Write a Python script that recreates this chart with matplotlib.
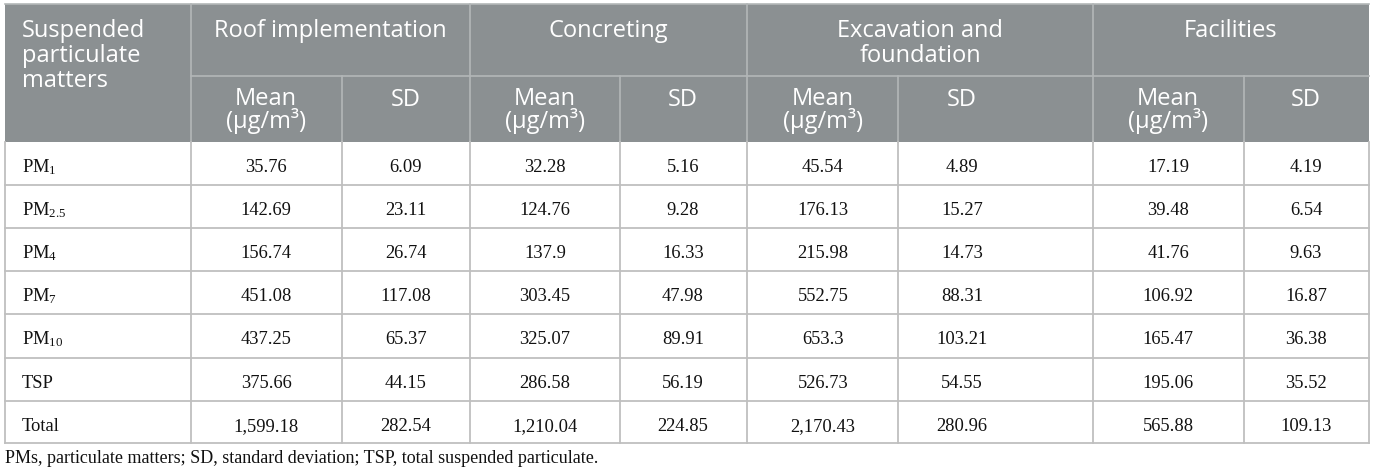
import matplotlib.pyplot as plt
from matplotlib.patches import Rectangle

plt.rcParams['mathtext.fontset'] = 'custom'
plt.rcParams['mathtext.rm'] = 'Liberation Serif'
plt.rcParams['mathtext.it'] = 'Liberation Serif:italic'

# dados da tabela
stages = ["Roof implementation", "Concreting", "Excavation and\nfoundation", "Facilities"]
particles = [r"PM$_{\mathrm{1}}$", r"PM$_{\mathrm{2.5}}$", r"PM$_{\mathrm{4}}$", r"PM$_{\mathrm{7}}$",
             r"PM$_{\mathrm{10}}$", "TSP", "Total"]
roof_mean = [35.76, 142.69, 156.74, 451.08, 437.25, 375.66, 1599.18]
roof_sd = [6.09, 23.11, 26.74, 117.08, 65.37, 44.15, 282.54]
conc_mean = [32.28, 124.76, 137.9, 303.45, 325.07, 286.58, 1210.04]
conc_sd = [5.16, 9.28, 16.33, 47.98, 89.91, 56.19, 224.85]
exc_mean = [45.54, 176.13, 215.98, 552.75, 653.3, 526.73, 2170.43]
exc_sd = [4.89, 15.27, 14.73, 88.31, 103.21, 54.55, 280.96]
fac_mean = [17.19, 39.48, 41.76, 106.92, 165.47, 195.06, 565.88]
fac_sd = [4.19, 6.54, 9.63, 16.87, 36.38, 35.52, 109.13]
footnote = "PMs, particulate matters; SD, standard deviation; TSP, total suspended particulate."

columns = [roof_mean, roof_sd, conc_mean, conc_sd, exc_mean, exc_sd, fac_mean, fac_sd]

# layout (pixels)
W, H = 1376, 477
left, right = 5, 1369
top, mid, head_bot = 5, 77, 143
group_edges = [191, 470, 747, 1093, right]
sub_edges = [342, 620, 898, 1244]
text_x = [266, 406, 545, 683, 823, 962, 1168, 1306]
row_edges = [143, 186, 229, 272, 315, 359, 402, 444]

head_bg = "#8b9092"
head_line = "#b3b7b8"
grid = "#bfbfbf"

fig = plt.figure(figsize=(W / 100, H / 100), dpi=100)
ax = fig.add_axes([0, 0, 1, 1])
ax.set_xlim(0, W)
ax.set_ylim(H, 0)
ax.axis("off")

# cabecalho
ax.add_patch(Rectangle((left, top), right - left, head_bot - top, color=head_bg, lw=0))
ax.plot([left, right], [top, top], color=head_line, lw=1.2)
ax.plot([group_edges[0], right], [mid, mid], color=head_line, lw=1.2)
for x in group_edges[:-1]:
    ax.plot([x, x], [top, head_bot], color=head_line, lw=1.2)
for x in sub_edges:
    ax.plot([x, x], [mid, head_bot], color=head_line, lw=1.2)

hfont = dict(family="Open Sans", fontsize=17, color="white")
for i, line in enumerate(["Suspended", "particulate", "matters"]):
    ax.text(22, 37 + 25 * i, line, ha="left", va="baseline", **hfont)
for i, name in enumerate(stages):
    cx = (group_edges[i] + group_edges[i + 1]) / 2
    for j, line in enumerate(name.split("\n")):
        ax.text(cx, 37 + 25 * j, line, ha="center", va="baseline", **hfont)
for k, x in enumerate(text_x):
    if k % 2 == 0:
        # baseline aqui vale para a segunda linha
        ax.text(x, 128, "Mean\n(\u03bcg/m\u00b3)", ha="center", va="baseline",
                multialignment="center", linespacing=0.85, **hfont)
    else:
        ax.text(x, 106, "SD", ha="center", va="baseline", **hfont)

# linhas da tabela
for y in row_edges[1:]:
    ax.plot([left, right], [y, y], color=grid, lw=1.3)
for x in [left] + group_edges[:-1] + sub_edges + [right]:
    ax.plot([x, x], [row_edges[0], row_edges[-1]], color=grid, lw=1.3)

dfont = dict(family="Liberation Serif", fontsize=13.3, color="#111111")
for r in range(len(particles)):
    yb = row_edges[r] + 29.5
    ax.text(22, yb, particles[r], ha="left", va="baseline", **dfont)
    for k, col in enumerate(columns):
        ax.text(text_x[k], yb, f"{col[r]:,}", ha="center", va="baseline", **dfont)

ax.text(left, 463, footnote, ha="left", va="baseline", family="Liberation Serif",
        fontsize=13, color="#111111")

fig.savefig("out.png", dpi=100)
